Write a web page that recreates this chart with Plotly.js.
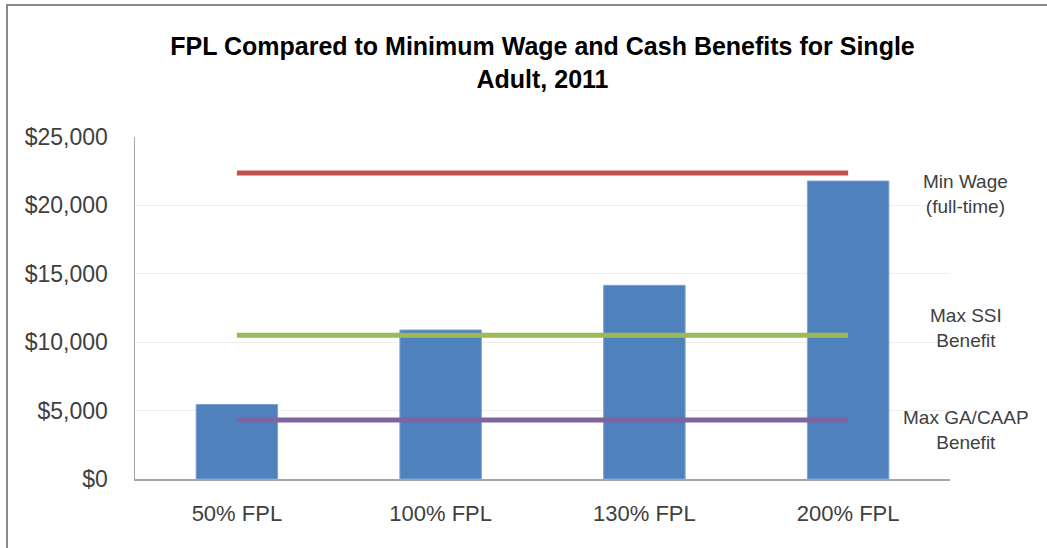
<!DOCTYPE html>
<html>
<head>
<meta charset="utf-8">
<script src="https://cdn.plot.ly/plotly-3.0.1.min.js"></script>
<style>
html,body{margin:0;padding:0;background:#fff;}
#wrap{position:relative;width:1047px;height:548px;overflow:hidden;}
#chart{width:1047px;height:548px;}
#frame{position:absolute;left:6px;top:4px;width:1100px;height:600px;border-left:2px solid #8a8a8a;border-top:2px solid #8a8a8a;pointer-events:none;}
</style>
</head>
<body>
<div id="wrap"><div id="chart"></div><div id="frame"></div></div>
<script>
const categories = ['50% FPL', '100% FPL', '130% FPL', '200% FPL'];
const fplValues = [5445, 10890, 14157, 21780];
const minWage = [22360, 22360, 22360, 22360];
const maxSSI = [10500, 10500, 10500, 10500];
const maxGA = [4320, 4320, 4320, 4320];
const lineLabels = ['Min Wage<br>(full-time)', 'Max SSI<br>Benefit', 'Max GA/CAAP<br>Benefit'];
const yTicks = [0, 5000, 10000, 15000, 20000, 25000];
const yTickLabels = ['$0', '$5,000', '$10,000', '$15,000', '$20,000', '$25,000'];

const FONT = '"Liberation Sans", Arial, sans-serif';
const TXT = '#404040';

const traces = [
  {type:'bar', x:categories, y:fplValues, marker:{color:'#4F81BD', line:{color:'#7FA4D4', width:1}}, hoverinfo:'x+y'},
  {type:'scatter', mode:'lines', x:categories, y:minWage, line:{color:'#C0504D', width:5}},
  {type:'scatter', mode:'lines', x:categories, y:maxSSI, line:{color:'#9BBB59', width:5}},
  {type:'scatter', mode:'lines', x:categories, y:maxGA, line:{color:'#8064A2', width:5}}
];

const lineVals = [minWage[0], maxSSI[0], maxGA[0]];
const shifts = [-21, 7, -10];
const annotations = lineLabels.map((t, i) => ({
  text: t, xref:'paper', yref:'y', x:1.0196, y:lineVals[i], yshift:shifts[i],
  showarrow:false, xanchor:'center', yanchor:'middle', align:'center',
  font:{family:FONT, size:19, color:TXT}
}));

const layout = {
  width:1047, height:548,
  margin:{l:135, r:97, t:137, b:69},
  paper_bgcolor:'#fff', plot_bgcolor:'#fff',
  showlegend:false,
  bargap:0.6,
  title:{text:'<b>FPL Compared to Minimum Wage and Cash Benefits for Single<br>Adult, 2011</b>',
    x:0.5, xref:'paper', xanchor:'center', y:0.899, yanchor:'middle',
    font:{family:FONT, size:25, color:'#000'}},
  xaxis:{type:'category', showline:true, linecolor:'#a6a6a6', linewidth:1.5, showgrid:false,
    ticks:'', tickfont:{family:FONT, size:22, color:TXT}, ticklabelstandoff:14, fixedrange:true},
  yaxis:{range:[0,25000], tickvals:yTicks, ticktext:yTickLabels, showline:true,
    linecolor:'#a6a6a6', linewidth:1.5, gridcolor:'#efefef', gridwidth:1, zeroline:false,
    ticks:'', tickfont:{family:FONT, size:23, color:TXT}, ticklabelstandoff:21, fixedrange:true},
  annotations: annotations
};

Plotly.newPlot('chart', traces, layout, {displayModeBar:false, staticPlot:true});
</script>
</body>
</html>
